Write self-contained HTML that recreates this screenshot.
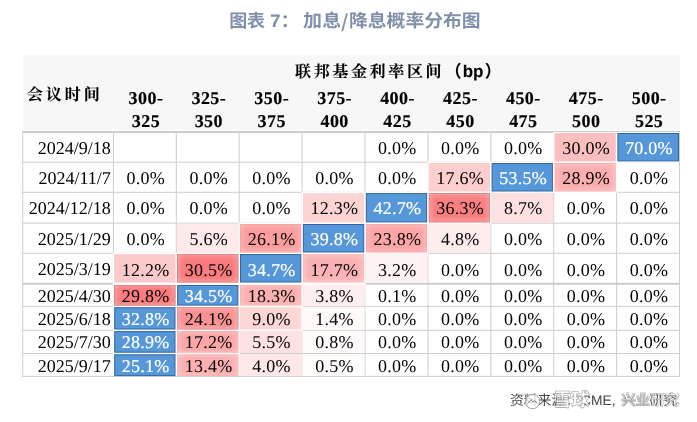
<!DOCTYPE html>
<html lang="zh-CN"><head><meta charset="utf-8"><title>图表 7</title>
<style>
html,body{margin:0;padding:0;background:#fff;}
body{width:697px;height:422px;position:relative;overflow:hidden;text-rendering:geometricPrecision;font-family:"Liberation Serif","Noto Serif CJK SC",serif;color:#000;}
.abs{position:absolute;}
.title{top:7.1px;height:28px;line-height:28px;font-family:"Liberation Sans","Noto Sans CJK SC",sans-serif;font-weight:bold;font-size:18px;color:#8190aa;white-space:pre;}
.ts{top:0;transform-origin:0 50%;transform:scaleX(1.055);}
.cell{text-align:center;font-size:18px;letter-spacing:0.25px;white-space:nowrap;height:20px;line-height:20px;}
.date{text-align:right;font-size:18px;white-space:nowrap;height:20px;line-height:20px;}
.wt{color:#fff;-webkit-text-stroke:0.2px #fff;}
.hd{-webkit-text-stroke:0.15px #000;font-weight:bold;font-size:18px;letter-spacing:0.45px;text-align:center;white-space:nowrap;}
.kai{-webkit-text-stroke:0.1px #000;font-family:"Liberation Serif","Noto Serif CJK SC",serif;font-weight:bold;white-space:nowrap;}
.src{font-family:"Liberation Sans","Noto Sans CJK SC",sans-serif;font-size:13.8px;line-height:20px;color:#444;white-space:nowrap;}
.wm{font-family:"Liberation Sans","Noto Sans CJK SC",sans-serif;font-weight:bold;line-height:24px;color:rgba(255,255,255,0.86);-webkit-text-stroke:1.1px rgba(70,70,70,0.55);paint-order:stroke fill;white-space:nowrap;}
</style></head><body>

<svg class="abs" style="left:0;top:0;" width="697" height="422" viewBox="0 0 697 422">
<defs><linearGradient id="fh" x1="0" y1="0" x2="1" y2="0"><stop offset="0" stop-color="#fff" stop-opacity="0.18"/><stop offset="0.1" stop-color="#fff" stop-opacity="0"/><stop offset="0.9" stop-color="#fff" stop-opacity="0"/><stop offset="1" stop-color="#fff" stop-opacity="0.18"/></linearGradient><linearGradient id="fv" x1="0" y1="0" x2="0" y2="1"><stop offset="0" stop-color="#fff" stop-opacity="0.18"/><stop offset="0.2" stop-color="#fff" stop-opacity="0"/><stop offset="0.8" stop-color="#fff" stop-opacity="0"/><stop offset="1" stop-color="#fff" stop-opacity="0.18"/></linearGradient></defs>
<rect x="23" y="55" width="657.1" height="75" fill="#f7f7f7"/>
<rect x="22.2" y="131" width="657.7" height="2" fill="#cbcbcb"/>
<rect x="22.2" y="161.70" width="657.7" height="1" fill="#cecece"/>
<rect x="22.2" y="191.80" width="657.7" height="1" fill="#cecece"/>
<rect x="22.2" y="222.70" width="657.7" height="1" fill="#cecece"/>
<rect x="22.2" y="252.80" width="657.7" height="1" fill="#cecece"/>
<rect x="22.2" y="282.80" width="657.7" height="2" fill="#cccccc"/>
<rect x="22.2" y="305.90" width="657.7" height="1" fill="#cecece"/>
<rect x="22.2" y="329.80" width="657.7" height="1" fill="#cecece"/>
<rect x="22.2" y="353.00" width="657.7" height="1" fill="#cecece"/>
<rect x="22.2" y="375.90" width="657.7" height="1" fill="#cecece"/>
<rect x="22.20" y="131" width="1" height="245.90" fill="#cecece"/>
<rect x="112.90" y="131" width="1" height="245.90" fill="#cecece"/>
<rect x="175.80" y="131" width="1" height="245.90" fill="#cecece"/>
<rect x="238.70" y="131" width="1" height="245.90" fill="#cecece"/>
<rect x="301.60" y="131" width="1" height="245.90" fill="#cecece"/>
<rect x="364.50" y="131" width="1" height="245.90" fill="#cecece"/>
<rect x="427.40" y="131" width="1" height="245.90" fill="#cecece"/>
<rect x="490.30" y="131" width="1" height="245.90" fill="#cecece"/>
<rect x="553.20" y="131" width="1" height="245.90" fill="#cecece"/>
<rect x="616.10" y="131" width="1" height="245.90" fill="#cecece"/>
<rect x="679.00" y="131" width="1" height="245.90" fill="#cecece"/>
<rect x="553.10" y="132.00" width="64.10" height="30.80" fill="#fff"/>
<rect x="616.00" y="132.00" width="63.00" height="30.80" fill="#fff"/>
<rect x="427.30" y="161.60" width="64.10" height="31.30" fill="#fff"/>
<rect x="490.20" y="161.60" width="64.10" height="31.30" fill="#fff"/>
<rect x="553.10" y="161.60" width="64.10" height="31.30" fill="#fff"/>
<rect x="301.50" y="191.70" width="64.10" height="32.10" fill="#fff"/>
<rect x="364.40" y="191.70" width="64.10" height="32.10" fill="#fff"/>
<rect x="427.30" y="191.70" width="64.10" height="32.10" fill="#fff"/>
<rect x="238.60" y="222.60" width="64.10" height="31.30" fill="#fff"/>
<rect x="301.50" y="222.60" width="64.10" height="31.30" fill="#fff"/>
<rect x="364.40" y="222.60" width="64.10" height="31.30" fill="#fff"/>
<rect x="112.80" y="252.70" width="64.10" height="32.20" fill="#fff"/>
<rect x="175.70" y="252.70" width="64.10" height="32.20" fill="#fff"/>
<rect x="238.60" y="252.70" width="64.10" height="32.20" fill="#fff"/>
<rect x="301.50" y="252.70" width="64.10" height="32.20" fill="#fff"/>
<rect x="112.80" y="282.70" width="64.10" height="24.30" fill="#fff"/>
<rect x="175.70" y="282.70" width="64.10" height="24.30" fill="#fff"/>
<rect x="238.60" y="282.70" width="64.10" height="24.30" fill="#fff"/>
<rect x="112.80" y="305.80" width="64.10" height="25.10" fill="#fff"/>
<rect x="175.70" y="305.80" width="64.10" height="25.10" fill="#fff"/>
<rect x="238.60" y="305.80" width="64.10" height="25.10" fill="#fff"/>
<rect x="112.80" y="329.70" width="64.10" height="24.40" fill="#fff"/>
<rect x="175.70" y="329.70" width="64.10" height="24.40" fill="#fff"/>
<rect x="112.80" y="352.90" width="64.10" height="23.00" fill="#fff"/>
<rect x="175.70" y="352.90" width="64.10" height="23.00" fill="#fff"/>
<rect x="554.50" y="133.00" width="61.30" height="28.40" fill="#fcbfc0"/>
<rect x="617.90" y="133.50" width="60.60" height="27.40" fill="#5597d8" stroke="#2f66a2" stroke-width="1"/>
<rect x="428.70" y="163.00" width="61.30" height="28.50" fill="#fdcece"/>
<rect x="492.10" y="163.50" width="60.30" height="27.50" fill="#5597d8" stroke="#2f66a2" stroke-width="1"/>
<rect x="554.50" y="163.00" width="61.30" height="28.50" fill="#fbaeaf"/>
<rect x="555.20" y="163.70" width="59.90" height="27.10" fill="url(#fh)"/><rect x="555.20" y="163.70" width="59.90" height="27.10" fill="url(#fv)"/>
<rect x="302.90" y="193.10" width="61.30" height="29.30" fill="#fdd4d4"/>
<rect x="366.30" y="193.60" width="60.30" height="28.30" fill="#5597d8" stroke="#2f66a2" stroke-width="1"/>
<rect x="429.05" y="193.45" width="60.60" height="28.60" fill="#f97f81" stroke="#d66e6f" stroke-width="0.7"/>
<rect x="429.40" y="193.80" width="59.90" height="27.90" fill="url(#fh)"/><rect x="429.40" y="193.80" width="59.90" height="27.90" fill="url(#fv)"/>
<rect x="491.30" y="192.80" width="61.90" height="29.90" fill="#fee0e1"/>
<rect x="176.80" y="223.70" width="61.90" height="29.10" fill="#feeaea"/>
<rect x="240.00" y="224.00" width="61.30" height="28.50" fill="#fa9d9e"/>
<rect x="240.70" y="224.70" width="59.90" height="27.10" fill="url(#fh)"/><rect x="240.70" y="224.70" width="59.90" height="27.10" fill="url(#fv)"/>
<rect x="303.40" y="224.50" width="60.30" height="27.50" fill="#5597d8" stroke="#2f66a2" stroke-width="1"/>
<rect x="365.80" y="224.00" width="61.30" height="28.50" fill="#fba5a6"/>
<rect x="366.50" y="224.70" width="59.90" height="27.10" fill="url(#fh)"/><rect x="366.50" y="224.70" width="59.90" height="27.10" fill="url(#fv)"/>
<rect x="428.40" y="223.70" width="61.90" height="29.10" fill="#feeded"/>
<rect x="114.20" y="254.10" width="61.30" height="28.40" fill="#fdcacb"/>
<rect x="177.45" y="254.45" width="60.60" height="27.70" fill="#f97b7d" stroke="#d66a6b" stroke-width="0.7"/>
<rect x="177.80" y="254.80" width="59.90" height="27.00" fill="url(#fh)"/><rect x="177.80" y="254.80" width="59.90" height="27.00" fill="url(#fv)"/>
<rect x="240.50" y="254.60" width="60.30" height="27.40" fill="#5597d8" stroke="#2f66a2" stroke-width="1"/>
<rect x="302.90" y="254.10" width="61.30" height="28.40" fill="#fbb2b4"/>
<rect x="303.60" y="254.80" width="59.90" height="27.00" fill="url(#fh)"/><rect x="303.60" y="254.80" width="59.90" height="27.00" fill="url(#fv)"/>
<rect x="365.50" y="253.80" width="61.90" height="29.00" fill="#fef1f1"/>
<rect x="114.55" y="285.35" width="60.60" height="19.90" fill="#f97d7f" stroke="#d66c6d" stroke-width="0.7"/>
<rect x="114.90" y="285.70" width="59.90" height="19.20" fill="url(#fh)"/><rect x="114.90" y="285.70" width="59.90" height="19.20" fill="url(#fv)"/>
<rect x="177.60" y="285.50" width="60.30" height="19.60" fill="#5597d8" stroke="#2f66a2" stroke-width="1"/>
<rect x="240.00" y="285.00" width="61.30" height="20.60" fill="#fbafb0"/>
<rect x="240.70" y="285.70" width="59.90" height="19.20" fill="url(#fh)"/><rect x="240.70" y="285.70" width="59.90" height="19.20" fill="url(#fv)"/>
<rect x="302.60" y="284.80" width="61.90" height="21.10" fill="#feeeef"/>
<rect x="365.50" y="284.80" width="61.90" height="21.10" fill="#ffffff"/>
<rect x="114.70" y="307.70" width="60.30" height="21.30" fill="#5597d8" stroke="#2f66a2" stroke-width="1"/>
<rect x="177.45" y="307.55" width="60.60" height="21.60" fill="#fa9192" stroke="#d77d7e" stroke-width="0.7"/>
<rect x="177.80" y="307.90" width="59.90" height="20.90" fill="url(#fh)"/><rect x="177.80" y="307.90" width="59.90" height="20.90" fill="url(#fv)"/>
<rect x="240.00" y="307.20" width="61.30" height="22.30" fill="#fdd6d6"/>
<rect x="302.60" y="306.90" width="61.90" height="22.90" fill="#fff9f9"/>
<rect x="114.70" y="331.60" width="60.30" height="20.60" fill="#5597d8" stroke="#2f66a2" stroke-width="1"/>
<rect x="177.10" y="331.10" width="61.30" height="21.60" fill="#fba6a7"/>
<rect x="177.80" y="331.80" width="59.90" height="20.20" fill="url(#fh)"/><rect x="177.80" y="331.80" width="59.90" height="20.20" fill="url(#fv)"/>
<rect x="239.70" y="330.80" width="61.90" height="22.20" fill="#fee2e3"/>
<rect x="302.60" y="330.80" width="61.90" height="22.20" fill="#fffbfb"/>
<rect x="114.70" y="354.80" width="60.30" height="20.80" fill="#5597d8" stroke="#2f66a2" stroke-width="1"/>
<rect x="177.10" y="354.30" width="61.30" height="21.80" fill="#fbafb0"/>
<rect x="177.80" y="355.00" width="59.90" height="20.40" fill="url(#fh)"/><rect x="177.80" y="355.00" width="59.90" height="20.40" fill="url(#fv)"/>
<rect x="239.70" y="354.00" width="61.90" height="21.90" fill="#fee7e7"/>
<rect x="302.60" y="354.00" width="61.90" height="21.90" fill="#fffcfc"/>
</svg>
<div class="abs title" style="left:0;width:697px;"><span class="abs ts" style="left:229.3px;letter-spacing:-0.4px;transform:none;">图表 </span><span class="abs ts" style="left:269.6px;">7： </span><span class="abs ts" style="left:302.5px;letter-spacing:0.3px;">加息</span><span class="abs ts" style="left:341.4px;font-family:'Noto Sans CJK SC',sans-serif;">/</span><span class="abs ts" style="left:348.6px;transform:scaleX(1.045);">降息概率分布图</span></div>
<div class="abs kai" style="left:295px;top:60px;font-size:16px;letter-spacing:2.65px;line-height:24px;">联邦基金利率区间<span style="font-family:'Liberation Sans','Noto Sans CJK SC',sans-serif;letter-spacing:0;font-size:16.5px;margin-left:0.8px;">（<span style="font-size:17px;margin:0 1.2px;">bp</span>）</span></div>
<div class="abs kai" style="left:26.7px;top:83.6px;font-size:16.1px;letter-spacing:2.9px;line-height:24px;">会议时间</div>
<div class="abs hd" style="left:114.5px;width:62.9px;top:86.5px;line-height:23.4px;">300-<br>325</div>
<div class="abs hd" style="left:177.4px;width:62.9px;top:86.5px;line-height:23.4px;">325-<br>350</div>
<div class="abs hd" style="left:240.3px;width:62.9px;top:86.5px;line-height:23.4px;">350-<br>375</div>
<div class="abs hd" style="left:303.2px;width:62.9px;top:86.5px;line-height:23.4px;">375-<br>400</div>
<div class="abs hd" style="left:366.1px;width:62.9px;top:86.5px;line-height:23.4px;">400-<br>425</div>
<div class="abs hd" style="left:429.0px;width:62.9px;top:86.5px;line-height:23.4px;">425-<br>450</div>
<div class="abs hd" style="left:491.9px;width:62.9px;top:86.5px;line-height:23.4px;">450-<br>475</div>
<div class="abs hd" style="left:554.8px;width:62.9px;top:86.5px;line-height:23.4px;">475-<br>500</div>
<div class="abs hd" style="left:617.7px;width:62.9px;top:86.5px;line-height:23.4px;">500-<br>525</div>
<div class="abs date" style="left:22.7px;width:88.1px;top:138.02px;">2024/9/18</div>
<div class="abs cell" style="left:365.9px;width:62.9px;top:138.22px;">0.0%</div>
<div class="abs cell" style="left:428.8px;width:62.9px;top:138.22px;">0.0%</div>
<div class="abs cell" style="left:491.7px;width:62.9px;top:138.22px;">0.0%</div>
<div class="abs cell" style="left:554.6px;width:62.9px;top:138.22px;">30.0%</div>
<div class="abs cell wt" style="left:617.5px;width:62.9px;top:138.22px;">70.0%</div>
<div class="abs date" style="left:22.7px;width:88.1px;top:168.02px;">2024/11/7</div>
<div class="abs cell" style="left:114.3px;width:62.9px;top:168.22px;">0.0%</div>
<div class="abs cell" style="left:177.2px;width:62.9px;top:168.22px;">0.0%</div>
<div class="abs cell" style="left:240.1px;width:62.9px;top:168.22px;">0.0%</div>
<div class="abs cell" style="left:303.0px;width:62.9px;top:168.22px;">0.0%</div>
<div class="abs cell" style="left:365.9px;width:62.9px;top:168.22px;">0.0%</div>
<div class="abs cell" style="left:428.8px;width:62.9px;top:168.22px;">17.6%</div>
<div class="abs cell wt" style="left:491.7px;width:62.9px;top:168.22px;">53.5%</div>
<div class="abs cell" style="left:554.6px;width:62.9px;top:168.22px;">28.9%</div>
<div class="abs cell" style="left:617.5px;width:62.9px;top:168.22px;">0.0%</div>
<div class="abs date" style="left:22.7px;width:88.1px;top:197.72px;">2024/12/18</div>
<div class="abs cell" style="left:114.3px;width:62.9px;top:197.92px;">0.0%</div>
<div class="abs cell" style="left:177.2px;width:62.9px;top:197.92px;">0.0%</div>
<div class="abs cell" style="left:240.1px;width:62.9px;top:197.92px;">0.0%</div>
<div class="abs cell" style="left:303.0px;width:62.9px;top:197.92px;">12.3%</div>
<div class="abs cell wt" style="left:365.9px;width:62.9px;top:197.92px;">42.7%</div>
<div class="abs cell" style="left:428.8px;width:62.9px;top:197.92px;">36.3%</div>
<div class="abs cell" style="left:491.7px;width:62.9px;top:197.92px;">8.7%</div>
<div class="abs cell" style="left:554.6px;width:62.9px;top:197.92px;">0.0%</div>
<div class="abs cell" style="left:617.5px;width:62.9px;top:197.92px;">0.0%</div>
<div class="abs date" style="left:22.7px;width:88.1px;top:228.72px;">2025/1/29</div>
<div class="abs cell" style="left:114.3px;width:62.9px;top:228.92px;">0.0%</div>
<div class="abs cell" style="left:177.2px;width:62.9px;top:228.92px;">5.6%</div>
<div class="abs cell" style="left:240.1px;width:62.9px;top:228.92px;">26.1%</div>
<div class="abs cell wt" style="left:303.0px;width:62.9px;top:228.92px;">39.8%</div>
<div class="abs cell" style="left:365.9px;width:62.9px;top:228.92px;">23.8%</div>
<div class="abs cell" style="left:428.8px;width:62.9px;top:228.92px;">4.8%</div>
<div class="abs cell" style="left:491.7px;width:62.9px;top:228.92px;">0.0%</div>
<div class="abs cell" style="left:554.6px;width:62.9px;top:228.92px;">0.0%</div>
<div class="abs cell" style="left:617.5px;width:62.9px;top:228.92px;">0.0%</div>
<div class="abs date" style="left:22.7px;width:88.1px;top:259.32px;">2025/3/19</div>
<div class="abs cell" style="left:114.3px;width:62.9px;top:259.52px;">12.2%</div>
<div class="abs cell" style="left:177.2px;width:62.9px;top:259.52px;">30.5%</div>
<div class="abs cell wt" style="left:240.1px;width:62.9px;top:259.52px;">34.7%</div>
<div class="abs cell" style="left:303.0px;width:62.9px;top:259.52px;">17.7%</div>
<div class="abs cell" style="left:365.9px;width:62.9px;top:259.52px;">3.2%</div>
<div class="abs cell" style="left:428.8px;width:62.9px;top:259.52px;">0.0%</div>
<div class="abs cell" style="left:491.7px;width:62.9px;top:259.52px;">0.0%</div>
<div class="abs cell" style="left:554.6px;width:62.9px;top:259.52px;">0.0%</div>
<div class="abs cell" style="left:617.5px;width:62.9px;top:259.52px;">0.0%</div>
<div class="abs date" style="left:22.7px;width:88.1px;top:286.12px;">2025/4/30</div>
<div class="abs cell" style="left:114.3px;width:62.9px;top:286.32px;">29.8%</div>
<div class="abs cell wt" style="left:177.2px;width:62.9px;top:286.32px;">34.5%</div>
<div class="abs cell" style="left:240.1px;width:62.9px;top:286.32px;">18.3%</div>
<div class="abs cell" style="left:303.0px;width:62.9px;top:286.32px;">3.8%</div>
<div class="abs cell" style="left:365.9px;width:62.9px;top:286.32px;">0.1%</div>
<div class="abs cell" style="left:428.8px;width:62.9px;top:286.32px;">0.0%</div>
<div class="abs cell" style="left:491.7px;width:62.9px;top:286.32px;">0.0%</div>
<div class="abs cell" style="left:554.6px;width:62.9px;top:286.32px;">0.0%</div>
<div class="abs cell" style="left:617.5px;width:62.9px;top:286.32px;">0.0%</div>
<div class="abs date" style="left:22.7px;width:88.1px;top:308.92px;">2025/6/18</div>
<div class="abs cell wt" style="left:114.3px;width:62.9px;top:309.12px;">32.8%</div>
<div class="abs cell" style="left:177.2px;width:62.9px;top:309.12px;">24.1%</div>
<div class="abs cell" style="left:240.1px;width:62.9px;top:309.12px;">9.0%</div>
<div class="abs cell" style="left:303.0px;width:62.9px;top:309.12px;">1.4%</div>
<div class="abs cell" style="left:365.9px;width:62.9px;top:309.12px;">0.0%</div>
<div class="abs cell" style="left:428.8px;width:62.9px;top:309.12px;">0.0%</div>
<div class="abs cell" style="left:491.7px;width:62.9px;top:309.12px;">0.0%</div>
<div class="abs cell" style="left:554.6px;width:62.9px;top:309.12px;">0.0%</div>
<div class="abs cell" style="left:617.5px;width:62.9px;top:309.12px;">0.0%</div>
<div class="abs date" style="left:22.7px;width:88.1px;top:332.22px;">2025/7/30</div>
<div class="abs cell wt" style="left:114.3px;width:62.9px;top:332.42px;">28.9%</div>
<div class="abs cell" style="left:177.2px;width:62.9px;top:332.42px;">17.2%</div>
<div class="abs cell" style="left:240.1px;width:62.9px;top:332.42px;">5.5%</div>
<div class="abs cell" style="left:303.0px;width:62.9px;top:332.42px;">0.8%</div>
<div class="abs cell" style="left:365.9px;width:62.9px;top:332.42px;">0.0%</div>
<div class="abs cell" style="left:428.8px;width:62.9px;top:332.42px;">0.0%</div>
<div class="abs cell" style="left:491.7px;width:62.9px;top:332.42px;">0.0%</div>
<div class="abs cell" style="left:554.6px;width:62.9px;top:332.42px;">0.0%</div>
<div class="abs cell" style="left:617.5px;width:62.9px;top:332.42px;">0.0%</div>
<div class="abs date" style="left:22.7px;width:88.1px;top:355.62px;">2025/9/17</div>
<div class="abs cell wt" style="left:114.3px;width:62.9px;top:355.82px;">25.1%</div>
<div class="abs cell" style="left:177.2px;width:62.9px;top:355.82px;">13.4%</div>
<div class="abs cell" style="left:240.1px;width:62.9px;top:355.82px;">4.0%</div>
<div class="abs cell" style="left:303.0px;width:62.9px;top:355.82px;">0.5%</div>
<div class="abs cell" style="left:365.9px;width:62.9px;top:355.82px;">0.0%</div>
<div class="abs cell" style="left:428.8px;width:62.9px;top:355.82px;">0.0%</div>
<div class="abs cell" style="left:491.7px;width:62.9px;top:355.82px;">0.0%</div>
<div class="abs cell" style="left:554.6px;width:62.9px;top:355.82px;">0.0%</div>
<div class="abs cell" style="left:617.5px;width:62.9px;top:355.82px;">0.0%</div>
<div class="abs src" style="left:510px;top:390.5px;">资料来源：</div>
<div class="abs src" style="left:581px;top:390.5px;">CME,</div>
<div class="abs src" style="left:622px;top:390.5px;">兴业研究</div>
<svg class="abs" style="left:522px;top:391px;" width="22" height="22" viewBox="0 0 22 22"><circle cx="10.5" cy="10.5" r="7.2" fill="rgba(255,255,255,0.75)" stroke="#9a9a9a" stroke-width="0.9"/><path d="M6.2 12.5 L9 8.5 L11 11 L12.6 9.3 L15 12.5" fill="none" stroke="#8a8a8a" stroke-width="1"/></svg>
<div class="abs wm" style="left:553.5px;top:388px;font-size:18px;">雪球</div>
<div class="abs wm" style="left:621.2px;top:389.2px;font-size:14.5px;color:rgba(255,255,255,0.6);-webkit-text-stroke:0.8px rgba(60,60,60,0.5);">兴业研究</div>
</body></html>
